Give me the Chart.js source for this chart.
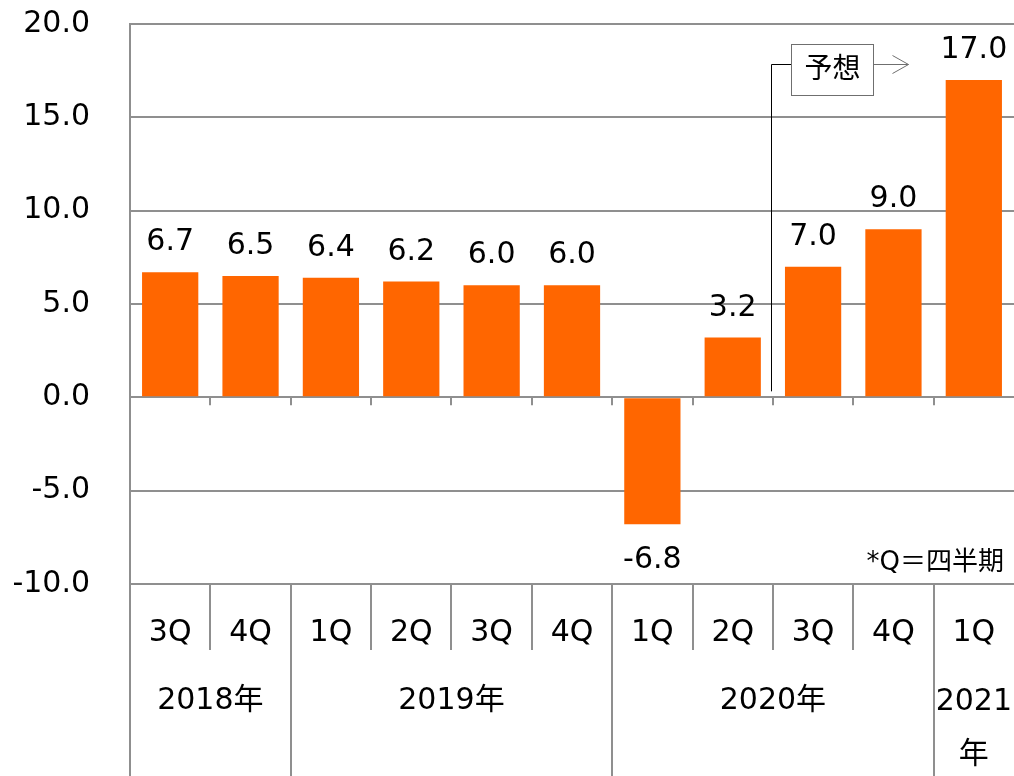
<!DOCTYPE html>
<html>
<head>
<meta charset="utf-8">
<script src="https://cdn.jsdelivr.net/npm/chart.js@4/dist/chart.umd.min.js"></script>
<style>
html,body{margin:0;padding:0;background:#fff;}
#wrap{width:1014px;height:776px;}
</style>
</head>
<body>
<div id="wrap"><canvas id="c" width="1014" height="776"></canvas></div>
<script>
// ---- data ----
const categories = ['3Q','4Q','1Q','2Q','3Q','4Q','1Q','2Q','3Q','4Q','1Q'];
const values = [6.7, 6.5, 6.4, 6.2, 6.0, 6.0, -6.8, 3.2, 7.0, 9.0, 17.0];
const yearLabels = ['2018年', '2019年', '2020年', ['2021', '年']];
const yearSpans = [2, 4, 4, 1];
const yMin = -10, yMax = 20, yStep = 5;
const forecastStartIndex = 8;
const forecastText = '予想';
const noteText = '*Q＝四半期';

const FONT = '"DejaVu Sans", "Noto Sans CJK JP", sans-serif';
const GRID = '#8f8f8f';
const BAR = '#FF6600';

const bottomPlugin = {
  id: 'bottomPlugin',
  afterDraw(chart) {
    const ctx = chart.ctx;
    const x = chart.scales.x, y = chart.scales.y;
    const area = chart.chartArea;
    const n = categories.length;
    const w = (area.right - area.left) / n;
    const bx = i => area.left + i * w;
    const y0 = y.getPixelForValue(0);
    const H = chart.height;
    ctx.save();
    ctx.strokeStyle = GRID;
    ctx.lineWidth = 2;
    for (let i = 1; i < n; i++) {
      ctx.beginPath(); ctx.moveTo(Math.round(bx(i)), y0); ctx.lineTo(Math.round(bx(i)), y0 + 8); ctx.stroke();
    }
    const yearBounds = new Set([0]);
    let acc = 0;
    yearSpans.forEach(s => { acc += s; yearBounds.add(acc); });
    ctx.beginPath(); ctx.moveTo(area.left, area.bottom); ctx.lineTo(area.left, H); ctx.stroke();
    for (let i = 1; i < n; i++) {
      const xx = Math.round(bx(i));
      ctx.beginPath();
      ctx.moveTo(xx, area.bottom);
      ctx.lineTo(xx, yearBounds.has(i) ? H : area.bottom + 66);
      ctx.stroke();
    }
    ctx.fillStyle = '#000';
    ctx.font = '30px ' + FONT;
    ctx.textAlign = 'center';
    ctx.textBaseline = 'middle';
    categories.forEach((c, i) => {
      ctx.fillText(c, x.getPixelForValue(i), area.bottom + 49);
    });
    let start = 0;
    yearSpans.forEach((s, k) => {
      const cx = bx(start) + s * w / 2;
      const lab = yearLabels[k];
      if (Array.isArray(lab)) {
        lab.forEach((t, j) => ctx.fillText(t, cx, area.bottom + 118 + j * 53));
      } else {
        ctx.fillText(lab, cx, area.bottom + 117);
      }
      start += s;
    });
    ctx.font = '26px ' + FONT;
    ctx.textAlign = 'right';
    ctx.fillText(noteText, area.right - 10, area.bottom - 21);

    const lx = Math.round(bx(forecastStartIndex)) - 2 + 0.5;
    const ly = area.top + 40.5;
    ctx.lineWidth = 1;
    ctx.strokeStyle = '#000';
    ctx.beginPath(); ctx.moveTo(lx, y0 - 6); ctx.lineTo(lx, ly); ctx.lineTo(lx + 20, ly); ctx.stroke();
    ctx.strokeStyle = '#6f6f6f';
    const boxL = lx + 20, boxT = area.top + 20.5, boxW = 82, boxH = 51;
    ctx.fillStyle = '#fff';
    ctx.fillRect(boxL, boxT, boxW, boxH);
    ctx.strokeRect(boxL, boxT, boxW, boxH);
    ctx.beginPath(); ctx.moveTo(boxL + boxW, ly); ctx.lineTo(boxL + boxW + 35, ly); ctx.stroke();
    ctx.beginPath(); ctx.moveTo(boxL + boxW + 19, ly - 9); ctx.lineTo(boxL + boxW + 35, ly); ctx.lineTo(boxL + boxW + 19, ly + 9); ctx.stroke();
    ctx.fillStyle = '#000';
    ctx.font = '28px ' + FONT;
    ctx.textAlign = 'center';
    ctx.textBaseline = 'middle';
    ctx.fillText(forecastText, boxL + boxW / 2, boxT + boxH / 2 + 1);
    ctx.restore();
  }
};

const valueLabelPlugin = {
  id: 'valueLabels',
  afterDatasetsDraw(chart) {
    const ctx = chart.ctx;
    const meta = chart.getDatasetMeta(0);
    ctx.save();
    ctx.fillStyle = '#000';
    ctx.font = '30px ' + FONT;
    ctx.textAlign = 'center';
    ctx.textBaseline = 'alphabetic';
    meta.data.forEach((bar, i) => {
      const v = values[i];
      const t = v.toFixed(1);
      if (v >= 0) ctx.fillText(t, bar.x, bar.y - 22);
      else ctx.fillText(t, bar.x, bar.y + 44);
    });
    ctx.restore();
  }
};

Chart.defaults.font.family = FONT;

new Chart(document.getElementById('c'), {
  type: 'bar',
  data: {
    labels: categories,
    datasets: [{
      data: values,
      backgroundColor: BAR,
      borderWidth: 0,
      barPercentage: 0.7,
      categoryPercentage: 1.0
    }]
  },
  options: {
    responsive: false,
    devicePixelRatio: 1,
    animation: false,
    layout: { padding: { top: 24, right: 0, left: 0, bottom: 0 } },
    plugins: { legend: { display: false }, tooltip: { enabled: false } },
    scales: {
      x: {
        grid: { display: false },
        border: { display: false },
        ticks: { display: false },
        afterFit(s) { s.height = 192; s.paddingLeft = 0; s.paddingRight = 0; }
      },
      y: {
        min: yMin, max: yMax,
        ticks: {
          stepSize: yStep,
          callback: v => Number(v).toFixed(1),
          font: { size: 30, family: FONT },
          color: '#000',
          padding: 40
        },
        grid: { color: GRID, lineWidth: 2, drawTicks: false },
        border: { display: true, color: GRID, width: 2 },
        afterFit(s) { s.width = 130; s.paddingTop = 0; s.paddingBottom = 0; }
      }
    }
  },
  plugins: [valueLabelPlugin, bottomPlugin]
});
</script>
</body>
</html>
